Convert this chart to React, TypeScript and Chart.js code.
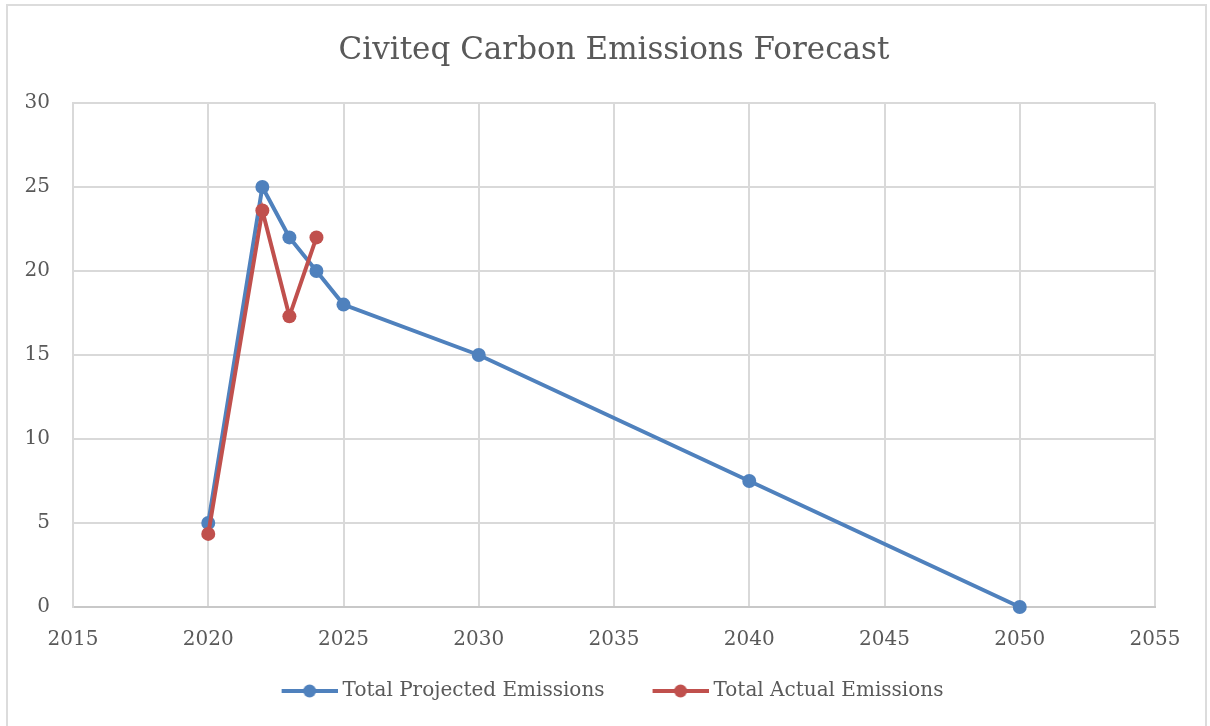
import React, { useEffect, useRef } from "react";
import { Chart, registerables } from "chart.js";

Chart.register(...registerables);

const TITLE = "Civiteq Carbon Emissions Forecast";
const PROJECTED_LABEL = "Total Projected Emissions";
const ACTUAL_LABEL = "Total Actual Emissions";
const projectedYears = [2020, 2022, 2023, 2024, 2025, 2030, 2040, 2050];
const projectedValues = [5, 25, 22, 20, 18, 15, 7.5, 0];
const actualYears = [2020, 2022, 2023, 2024];
const actualValues = [4.35, 23.6, 17.3, 22.0];

const BLUE = "#4f81bd";
const RED = "#c0504d";
const TEXT = "#595959";
const GRID = "#d9d9d9";
const FONT = "'DejaVu Serif', serif";

function makeMarker(color: string): HTMLCanvasElement {
  const c = document.createElement("canvas");
  c.width = 99;
  c.height = 16;
  const ctx = c.getContext("2d")!;
  ctx.strokeStyle = color;
  ctx.lineWidth = 4;
  ctx.beginPath();
  ctx.moveTo(43, 8);
  ctx.lineTo(99, 8);
  ctx.stroke();
  ctx.fillStyle = color;
  ctx.beginPath();
  ctx.arc(71, 8, 6.5, 0, Math.PI * 2);
  ctx.fill();
  return c;
}

export default function App() {
  const ref = useRef<HTMLCanvasElement | null>(null);
  useEffect(() => {
    if (!ref.current) return;
    const markers = [makeMarker(BLUE), makeMarker(RED)];
    const chart = new Chart(ref.current, {
      type: "line",
      data: {
        datasets: [
          {
            label: PROJECTED_LABEL,
            data: projectedYears.map((x, i) => ({ x, y: projectedValues[i] })),
            borderColor: BLUE,
            backgroundColor: BLUE,
            borderWidth: 4,
            pointRadius: 7,
            pointBorderWidth: 0,
            pointBackgroundColor: BLUE,
            clip: false,
            order: 2,
          },
          {
            label: ACTUAL_LABEL,
            data: actualYears.map((x, i) => ({ x, y: actualValues[i] })),
            borderColor: RED,
            backgroundColor: RED,
            borderWidth: 4,
            pointRadius: 7,
            pointBorderWidth: 0,
            pointBackgroundColor: RED,
            clip: false,
            order: 1,
          },
        ],
      },
      options: {
        responsive: false,
        animation: false,
        layout: { padding: { left: 0, right: 23, top: 0, bottom: 15 } },
        plugins: {
          tooltip: { enabled: false },
          title: {
            display: true,
            fullSize: false,
            text: TITLE,
            color: TEXT,
            font: { family: FONT, size: 31, weight: "normal" },
            padding: { top: 32, bottom: 33.8 },
          },
          legend: {
            position: "bottom",
            labels: {
              usePointStyle: true,
              pointStyleWidth: 89,
              padding: 10,
              color: TEXT,
              font: { family: FONT, size: 20 },
              generateLabels: (ch: any) =>
                ch.data.datasets.map((ds: any, i: number) => ({
                  text: ds.label,
                  fillStyle: ds.borderColor,
                  strokeStyle: ds.borderColor,
                  lineWidth: 0,
                  pointStyle: markers[i],
                  hidden: false,
                  datasetIndex: i,
                  fontColor: TEXT,
                })),
            },
          },
        },
        scales: {
          x: {
            type: "linear",
            min: 2015,
            max: 2055,
            ticks: {
              stepSize: 5,
              color: TEXT,
              font: { family: FONT, size: 20 },
              padding: 21,
              maxRotation: 0,
              callback: (v: any) => String(v),
            },
            grid: { color: GRID, lineWidth: 2, drawTicks: false },
            border: { color: "#c8c8c8", width: 2 },
            afterFit: (s: any) => {
              s.height = 64;
            },
          },
          y: {
            min: 0,
            max: 30,
            ticks: {
              stepSize: 5,
              color: TEXT,
              font: { family: FONT, size: 20 },
              padding: 23,
            },
            grid: { color: GRID, lineWidth: 2, drawTicks: false },
            border: { color: GRID, width: 2 },
            afterFit: (s: any) => {
              s.width = 73;
            },
          },
          yRightSpace: {
            type: "linear",
            position: "right",
            display: true,
            ticks: { display: false },
            grid: { display: false, drawTicks: false },
            border: { display: false },
            afterFit: (s: any) => {
              s.width = 32;
            },
          },
        },
      },
    });
    return () => chart.destroy();
  }, []);
  return (
    <div style={{ position: "absolute", left: 0, top: 0, width: 1210, height: 726, background: "#fff", overflow: "hidden" }}>
      <div
        style={{
          position: "absolute",
          left: 6,
          top: 4,
          width: 1201,
          height: 740,
          border: "2px solid #dcdcdc",
          boxSizing: "border-box",
        }}
      />
      <canvas ref={ref} width={1210} height={726} style={{ position: "absolute", left: 0, top: 0 }} />
    </div>
  );
}
